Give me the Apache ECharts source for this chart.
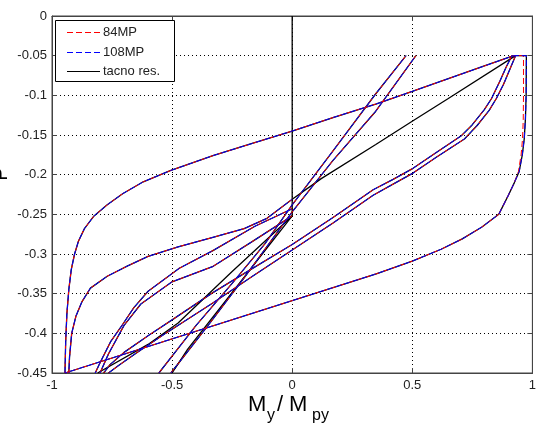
<!DOCTYPE html>
<html>
<head>
<meta charset="utf-8">
<script src="https://cdn.jsdelivr.net/npm/echarts@6/dist/echarts.min.js"></script>
<style>html,body{margin:0;padding:0;background:#fff}#c{width:539px;height:430px}</style>
</head>
<body>
<div id="c"></div>
<script>
// ---- data (x = My/Mpy, y = P) ----
var xTicks = [-1, -0.5, 0, 0.5, 1];
var yTicks = [0, -0.05, -0.1, -0.15, -0.2, -0.25, -0.3, -0.35, -0.4, -0.45];
var seriesNames = ['84MP', '108MP', 'tacno res.'];
var seriesColors = ['#ff0000', '#0000ff', '#000000'];

var outerUpper = [[0.922,-0.05],[0.80,-0.063],[0.65,-0.079],[0.5,-0.095],[0.348,-0.111],[0.17,-0.128],[0,-0.145],[-0.17,-0.161],[-0.33,-0.176],[-0.508,-0.195],[-0.62,-0.209],[-0.706,-0.224],[-0.77,-0.238],[-0.825,-0.252],[-0.865,-0.268],[-0.89,-0.284],[-0.906,-0.30],[-0.92,-0.32],[-0.93,-0.345],[-0.938,-0.375],[-0.943,-0.41],[-0.946,-0.45]];
var outerLower = [[-0.946,-0.45],[0.35,-0.325],[0.5,-0.309],[0.62,-0.294],[0.708,-0.281],[0.79,-0.266],[0.86,-0.25],[0.90,-0.226],[0.925,-0.21],[0.945,-0.196],[0.958,-0.175],[0.966,-0.155],[0.971,-0.13],[0.974,-0.10],[0.975,-0.05],[0.922,-0.05]];
var outerLowerRed = [[0.86,-0.25],[0.90,-0.226],[0.925,-0.21],[0.942,-0.196],[0.953,-0.175],[0.959,-0.155],[0.962,-0.13],[0.963,-0.10],[0.963,-0.05],[0.922,-0.05]];
var secondUpperLeft = [[0,-0.231],[-0.105,-0.255],[-0.2,-0.268],[-0.33,-0.279],[-0.475,-0.291],[-0.6,-0.303],[-0.685,-0.315],[-0.77,-0.328],[-0.84,-0.343],[-0.875,-0.36],[-0.90,-0.378],[-0.918,-0.40],[-0.927,-0.43],[-0.93,-0.45]];
var secondUpperRight = [[0.93,-0.05],[0.65,-0.104],[0.503,-0.132],[0.348,-0.162],[0.121,-0.205],[0,-0.231]];
var pairUpper = [[0.915,-0.05],[0.89,-0.065],[0.865,-0.082],[0.83,-0.104],[0.80,-0.118],[0.75,-0.137],[0.704,-0.151],[0.6,-0.172],[0.503,-0.192],[0.42,-0.206],[0.337,-0.219],[0.17,-0.254],[0,-0.288],[-0.17,-0.319],[-0.332,-0.349],[-0.5,-0.383],[-0.6,-0.403],[-0.7,-0.424],[-0.76,-0.44],[-0.785,-0.45]];
var pairLower = [[0.93,-0.05],[0.905,-0.068],[0.88,-0.086],[0.85,-0.104],[0.82,-0.119],[0.77,-0.138],[0.717,-0.155],[0.6,-0.178],[0.503,-0.198],[0.42,-0.212],[0.337,-0.226],[0.17,-0.261],[0,-0.295],[-0.17,-0.329],[-0.332,-0.362],[-0.45,-0.385],[-0.527,-0.40],[-0.65,-0.425],[-0.72,-0.44],[-0.765,-0.45]];
var steepA = [[-0.555,-0.45],[-0.4,-0.39],[-0.25,-0.337],[-0.113,-0.287],[0,-0.238],[0.17,-0.17],[0.348,-0.098],[0.474,-0.05]];
var steepB = [[-0.505,-0.45],[-0.35,-0.39],[-0.2,-0.33],[0,-0.247],[0.17,-0.182],[0.348,-0.12],[0.515,-0.05]];
var lowerLeftA = [[-0.82,-0.45],[-0.80,-0.437],[-0.755,-0.41],[-0.713,-0.392],[-0.66,-0.368],[-0.6,-0.347],[-0.47,-0.318],[-0.332,-0.296],[-0.155,-0.265],[0,-0.243]];
var lowerLeftB = [[-0.80,-0.45],[-0.765,-0.426],[-0.7,-0.39],[-0.63,-0.363],[-0.5,-0.335],[-0.332,-0.316],[-0.17,-0.285],[0,-0.252]];
var zeroVertical = [[0,0],[0,-0.252]];
var grayA = [[0,-0.252],[-0.25,-0.322],[-0.475,-0.387],[-0.6,-0.414],[-0.81,-0.45]];
var grayB = [[0,-0.252],[-0.435,-0.42],[-0.5,-0.45]];

var commonSegs = [outerUpper, secondUpperLeft, pairUpper, pairLower, steepA, steepB, lowerLeftA, lowerLeftB];
var blackSegs = commonSegs.concat([outerLower, zeroVertical, secondUpperRight, grayA, grayB]);
var blueSegs = commonSegs.concat([outerLower]);
var redSegs = commonSegs.concat([outerLower.slice(0, 7), outerLowerRed]);

// ---- chart ----
var chart = echarts.init(document.getElementById('c'), null, {renderer: 'canvas'});
var FONT = 'Liberation Sans, Arial, sans-serif';
var DASH = [6, 3];
var series = [];
function addSeries(name, segs, color, width, dash, offset, z) {
  segs.forEach(function (seg) {
    series.push({
      name: name, type: 'line', data: seg, symbol: 'none', showSymbol: false,
      clip: true, z: z, animation: false, silent: true,
      itemStyle: {color: color},
      lineStyle: {color: color, width: width, type: dash, dashOffset: offset}
    });
  });
}
addSeries(seriesNames[2], blackSegs, seriesColors[2], 1.3, 'solid', 0, 2);
addSeries(seriesNames[0], redSegs, seriesColors[0], 1, DASH, 0, 3);
addSeries(seriesNames[1], blueSegs, seriesColors[1], 1, DASH, 4, 4);

// legend drawn as graphic (box, line samples, text)
var legendGraphic = [
  {type: 'rect', z: 100, shape: {x: 55.5, y: 20.5, width: 119, height: 61}, style: {fill: '#fff', stroke: '#000', lineWidth: 1}}
];
var legendRows = [32, 52, 71];
seriesNames.forEach(function (n, i) {
  legendGraphic.push({type: 'line', z: 101, shape: {x1: 67, y1: legendRows[i] + 0.5, x2: 100, y2: legendRows[i] + 0.5},
    style: {stroke: seriesColors[i], lineWidth: 1, lineDash: i < 2 ? DASH : null}});
  legendGraphic.push({type: 'text', z: 101, x: 103, y: legendRows[i] + 0.5,
    style: {text: n, font: '13px ' + FONT, fill: '#222', verticalAlign: 'middle', align: 'left'}});
});

var gridLine = {show: true, lineStyle: {color: '#000', type: [1, 3], width: 1}};
chart.setOption({
  animation: false,
  backgroundColor: '#fff',
  grid: {left: 52, right: 1, top: 16, bottom: 57, show: true, borderColor: '#444', borderWidth: 1, backgroundColor: 'transparent'},
  xAxis: [{
    type: 'value', min: -1, max: 1, interval: 0.5, position: 'bottom',
    axisLine: {show: true, onZero: false, lineStyle: {color: '#444'}},
    axisTick: {show: true, inside: true, length: 5, lineStyle: {color: '#444'}},
    axisLabel: {fontFamily: FONT, fontSize: 13, color: '#222', margin: 6,
      formatter: function (v) { return String(v); }},
    splitLine: gridLine
  }, {
    type: 'value', min: -1, max: 1, interval: 0.5, position: 'top',
    axisLine: {show: true, onZero: false, lineStyle: {color: '#444'}},
    axisTick: {show: true, inside: true, length: 5, lineStyle: {color: '#444'}},
    axisLabel: {show: false}, splitLine: {show: false}
  }],
  yAxis: [{
    type: 'value', min: -0.45, max: 0, interval: 0.05, position: 'left',
    axisLine: {show: true, onZero: false, lineStyle: {color: '#444'}},
    axisTick: {show: true, inside: true, length: 5, lineStyle: {color: '#444'}},
    axisLabel: {fontFamily: FONT, fontSize: 13, color: '#222', margin: 5,
      formatter: function (v) { return String(Math.round(v * 100) / 100); }},
    splitLine: gridLine
  }, {
    type: 'value', min: -0.45, max: 0, interval: 0.05, position: 'right',
    axisLine: {show: true, onZero: false, lineStyle: {color: '#444'}},
    axisTick: {show: true, inside: true, length: 5, lineStyle: {color: '#444'}},
    axisLabel: {show: false}, splitLine: {show: false}
  }],
  graphic: legendGraphic.concat([
    {type: 'text', x: 248, y: 405, style: {text: 'M', font: '22px ' + FONT, fill: '#000', verticalAlign: 'middle', align: 'left'}},
    {type: 'text', x: 267, y: 416, style: {text: 'y', font: '16px ' + FONT, fill: '#000', verticalAlign: 'middle', align: 'left'}},
    {type: 'text', x: 277, y: 405, style: {text: '/', font: '22px ' + FONT, fill: '#000', verticalAlign: 'middle', align: 'left'}},
    {type: 'text', x: 289, y: 405, style: {text: 'M', font: '22px ' + FONT, fill: '#000', verticalAlign: 'middle', align: 'left'}},
    {type: 'text', x: 312, y: 416, style: {text: 'py', font: '16px ' + FONT, fill: '#000', verticalAlign: 'middle', align: 'left'}},
    {type: 'text', x: 1, y: 174, rotation: Math.PI / 2, style: {text: 'P', font: '20px ' + FONT, fill: '#000', verticalAlign: 'middle', align: 'center'}}
  ]),
  series: series
});
</script>
</body>
</html>
